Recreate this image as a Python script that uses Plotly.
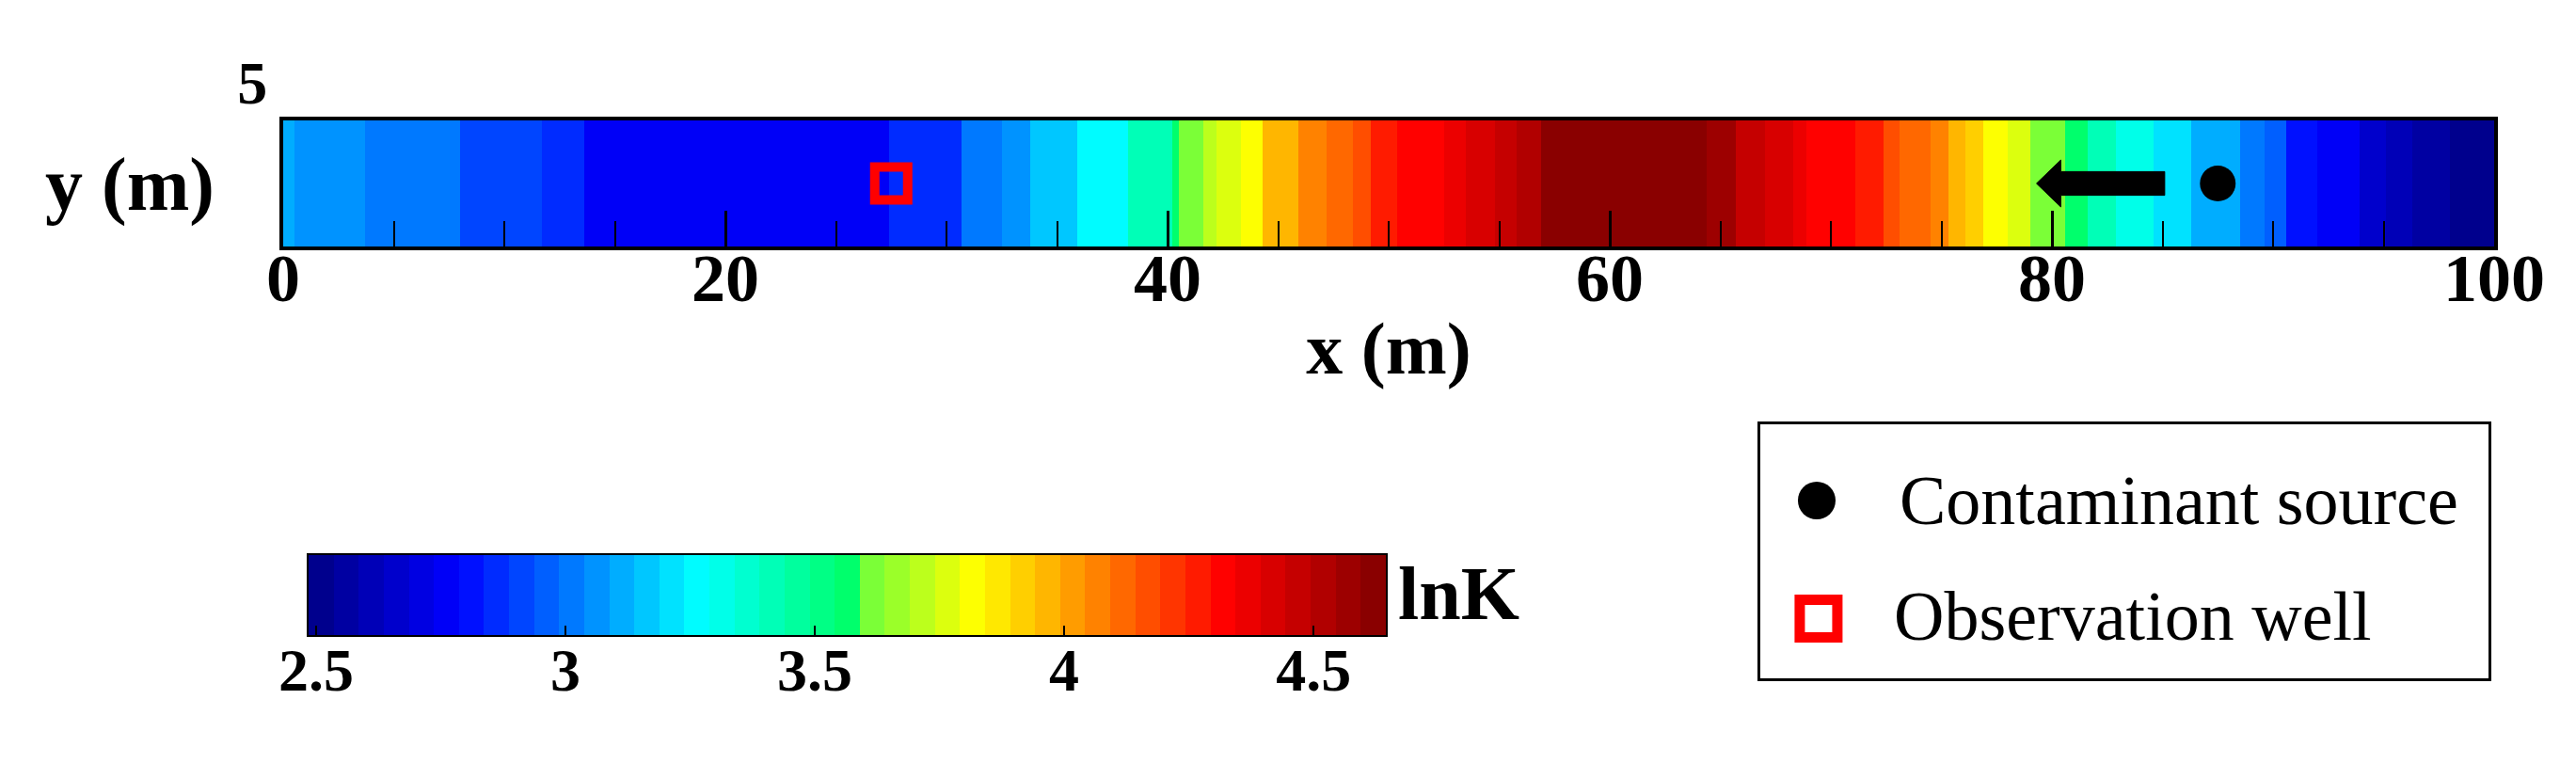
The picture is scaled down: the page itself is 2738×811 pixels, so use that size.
import plotly.graph_objects as go

# ---------------- data ----------------
# cell boundaries along x (m) and lnK value of each cell
x_edges = [0.0, 0.5, 3.7, 6.1, 8.0, 9.9, 11.7, 13.6, 19.3, 22.6,
           27.4, 28.5, 30.7, 32.5, 33.8, 35.9, 38.2, 40.2, 40.5, 41.6,
           42.2, 43.3, 44.3, 45.9, 47.2, 48.4, 49.2, 50.4, 52.5, 53.5,
           54.8, 55.8, 56.9, 64.4, 65.7, 67.0, 68.3, 68.9, 71.1, 72.4,
           73.1, 74.5, 75.3, 76.1, 76.9, 78.0, 79.0, 80.6, 81.6, 82.9,
           84.6, 86.3, 88.5, 89.6, 90.6, 92.0, 93.9, 95.1, 96.3, 98.0,
           100.0]
lnK = [3.10, 3.06, 3.03, 3.00, 2.93, 2.91, 2.88, 2.78, 2.74, 2.78,
       2.84, 2.87, 3.00, 3.08, 3.17, 3.28, 3.43, 3.57, 3.62, 3.70,
       3.76, 3.83, 3.95, 4.05, 4.10, 4.18, 4.25, 4.32, 4.36, 4.42,
       4.48, 4.53, 4.60, 4.55, 4.48, 4.44, 4.37, 4.32, 4.25, 4.19,
       4.12, 4.07, 3.99, 3.93, 3.84, 3.76, 3.63, 3.56, 3.40, 3.32,
       3.19, 3.10, 3.00, 2.95, 2.82, 2.77, 2.67, 2.63, 2.55, 2.52]
y_edges = [0.0, 5.0]
assert len(lnK) == len(x_edges) - 1

source_x = [87.5]
source_y = [2.5]
well_x = [27.5]
well_y = [2.5]
flow_arrow_x = [85.1, 80.4, 79.3]   # tail, head base, tip
flow_arrow_y = 2.5

x_tickvals = [0, 20, 40, 60, 80, 100]
x_ticktext = ["0", "20", "40", "60", "80", "100"]
cb_tickvals = [2.5, 3.0, 3.5, 4.0, 4.5]
cb_ticktext = ["2.5", "3", "3.5", "4", "4.5"]
zmin, zmax = 2.485, 4.645

legend_labels = ["Contaminant source", "Observation well"]

# ---------------- colour map (stepped rainbow) ----------------
cmap_pts = [(2.485, (0, 0, 130)), (2.78, (0, 0, 255)), (3.27, (0, 255, 255)),
            (3.58, (0, 255, 100)), (3.595, (110, 255, 60)), (3.82, (255, 255, 0)),
            (4.0, (255, 165, 0)), (4.32, (255, 0, 0)), (4.645, (128, 0, 0))]


def cmap(v):
    if v <= cmap_pts[0][0]:
        return cmap_pts[0][1]
    for (v0, c0), (v1, c1) in zip(cmap_pts[:-1], cmap_pts[1:]):
        if v0 <= v <= v1:
            f = (v - v0) / (v1 - v0)
            return tuple(round(a + (b - a) * f) for a, b in zip(c0, c1))
    return cmap_pts[-1][1]


N = 43
colorscale = []
for i in range(N):
    vc = zmin + (i + 0.5) * (zmax - zmin) / N
    c = "rgb(%d,%d,%d)" % cmap(vc)
    colorscale.append([i / N, c])
    colorscale.append([(i + 1) / N, c])

# colour-bar levels (one cell per colour step)
cb_edges = [zmin + i * (zmax - zmin) / N for i in range(N + 1)]
cb_levels = [(a + b) / 2 for a, b in zip(cb_edges[:-1], cb_edges[1:])]

# ---------------- figure geometry (pixels) ----------------
W, H = 2738, 811
PL, PR, PT, PB = 293, 2643, 120, 254          # main plot box
CL, CR, CT, CB = 320, 1465, 582, 667          # colour bar box
LL, LR, LT, LB = 1863, 2637, 443, 713         # legend box
FONT = "Liberation Serif, Times New Roman, serif"

fig = go.Figure()

fig.add_trace(go.Heatmap(
    x=x_edges, y=y_edges, z=[lnK],
    zmin=zmin, zmax=zmax, colorscale=colorscale,
    showscale=False, hoverinfo="skip"))

fig.add_trace(go.Scatter(
    x=source_x, y=source_y, mode="markers",
    marker=dict(symbol="circle", size=38, color="black"),
    showlegend=False, hoverinfo="skip"))
fig.add_trace(go.Scatter(
    x=well_x, y=well_y, mode="markers",
    marker=dict(symbol="square-open", size=35, color="rgb(255,0,0)",
                line=dict(width=10, color="rgb(255,0,0)")),
    showlegend=False, hoverinfo="skip"))

# legend markers (in their own small axes)
fig.add_trace(go.Scatter(
    x=[0.0775], y=[0.70], mode="markers", xaxis="x2", yaxis="y2",
    marker=dict(symbol="circle", size=40, color="black"),
    showlegend=False, hoverinfo="skip"))
fig.add_trace(go.Scatter(
    x=[0.080], y=[0.235], mode="markers", xaxis="x2", yaxis="y2",
    marker=dict(symbol="square-open", size=40, color="rgb(255,0,0)",
                line=dict(width=11, color="rgb(255,0,0)")),
    showlegend=False, hoverinfo="skip"))

# colour bar drawn as its own heatmap strip on an lnK axis
fig.add_trace(go.Heatmap(
    x=cb_edges, y=[0, 1], z=[cb_levels], xaxis="x3", yaxis="y3",
    zmin=zmin, zmax=zmax, colorscale=colorscale,
    showscale=False, hoverinfo="skip"))

# flow-direction arrow
tail, base, tip = flow_arrow_x
hs, hh = 0.47, 0.93
ya = flow_arrow_y
arrow_path = (f"M {tail},{ya - hs} L {base},{ya - hs} L {base},{ya - hh} "
              f"L {tip},{ya} L {base},{ya + hh} L {base},{ya + hs} "
              f"L {tail},{ya + hs} Z")
fig.add_shape(type="path", path=arrow_path, xref="x", yref="y",
              fillcolor="black", line=dict(color="black", width=1))

annos = [
    dict(text="<b>y (m)</b>", x=130 / W, y=1 - 188 / H, xref="paper", yref="paper",
         showarrow=False, xanchor="center", yanchor="middle",
         font=dict(family=FONT, size=80, color="black")),
    dict(text="<b>lnK</b>", x=1476 / W, y=1 - 623 / H, xref="paper", yref="paper",
         showarrow=False, xanchor="left", yanchor="middle",
         font=dict(family=FONT, size=80, color="black")),
    dict(text=legend_labels[0], x=0.188, y=0.70, xref="x2", yref="y2",
         showarrow=False, xanchor="left", yanchor="middle",
         font=dict(family=FONT, size=74, color="black")),
    dict(text=legend_labels[1], x=0.181, y=0.245, xref="x2", yref="y2",
         showarrow=False, xanchor="left", yanchor="middle",
         font=dict(family=FONT, size=74, color="black")),
]

fig.update_layout(
    width=W, height=H,
    margin=dict(l=0, r=0, t=0, b=0),
    paper_bgcolor="white", plot_bgcolor="white",
    showlegend=False,
    annotations=annos,
    xaxis=dict(
        domain=[PL / W, PR / W], range=[0, 100], anchor="y",
        showgrid=False, zeroline=False,
        showline=True, linecolor="black", linewidth=4, mirror=True,
        tickvals=x_tickvals, ticktext=x_ticktext,
        ticks="inside", ticklen=38, tickwidth=3, tickcolor="black",
        minor=dict(dtick=5, tick0=0, ticks="inside", ticklen=27,
                   tickwidth=2, tickcolor="black", showgrid=False),
        tickfont=dict(family=FONT, size=72, color="black", weight="bold"),
        ticklabelstandoff=-32,
        title=dict(text="<b>x (m)</b>", standoff=8,
                   font=dict(family=FONT, size=78, color="black")),
        automargin=False,
    ),
    yaxis=dict(
        domain=[1 - PB / H, 1 - PT / H], range=[0, 5], anchor="x",
        showgrid=False, zeroline=False,
        showline=True, linecolor="black", linewidth=4, mirror=True,
        tickvals=[5], ticktext=["5"], ticks="",
        ticklabelshift=-40, ticklabelstandoff=0,
        tickfont=dict(family=FONT, size=64, color="black", weight="bold"),
        automargin=False,
    ),
    xaxis2=dict(domain=[LL / W, LR / W], range=[0, 1], anchor="y2",
                showgrid=False, zeroline=False, showticklabels=False, ticks="",
                showline=True, linecolor="black", linewidth=3, mirror=True,
                fixedrange=True),
    yaxis2=dict(domain=[1 - LB / H, 1 - LT / H], range=[0, 1], anchor="x2",
                showgrid=False, zeroline=False, showticklabels=False, ticks="",
                showline=True, linecolor="black", linewidth=3, mirror=True,
                fixedrange=True),
    xaxis3=dict(domain=[CL / W, CR / W], range=[zmin, zmax], anchor="y3",
                showgrid=False, zeroline=False,
                showline=True, linecolor="black", linewidth=2, mirror=True,
                tickvals=cb_tickvals, ticktext=cb_ticktext,
                ticks="inside", ticklen=10, tickwidth=2, tickcolor="black",
                tickfont=dict(family=FONT, size=64, color="black", weight="bold"),
                ticklabelstandoff=-20, fixedrange=True, automargin=False),
    yaxis3=dict(domain=[1 - CB / H, 1 - CT / H], range=[0, 1], anchor="x3",
                showgrid=False, zeroline=False, showticklabels=False, ticks="",
                showline=True, linecolor="black", linewidth=2, mirror=True,
                fixedrange=True, automargin=False),
)

fig.write_html("out.html")
